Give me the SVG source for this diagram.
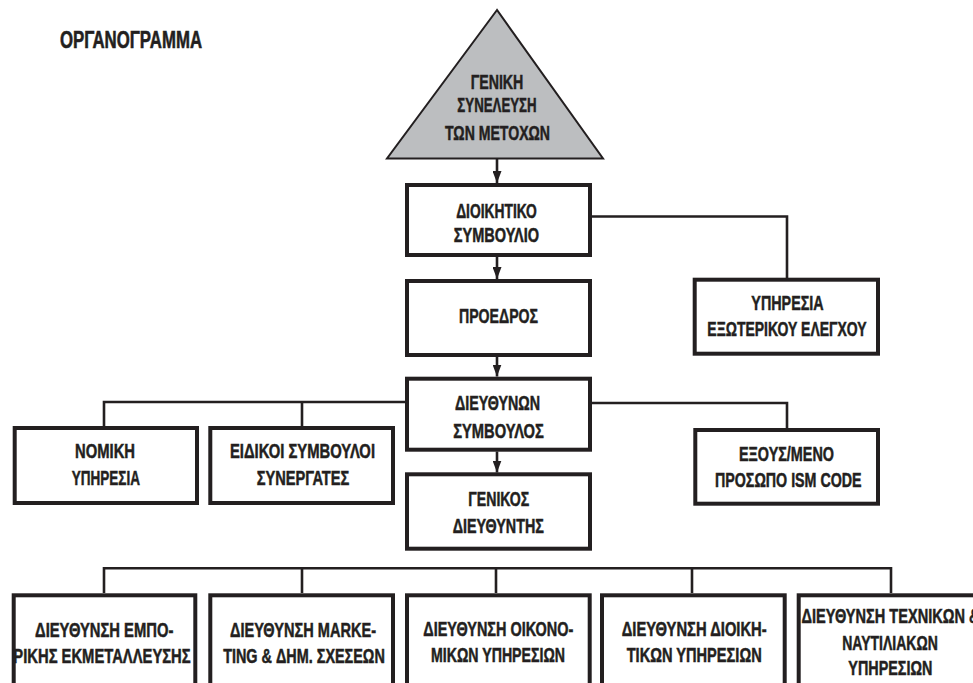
<svg xmlns="http://www.w3.org/2000/svg" width="973" height="683" viewBox="0 0 973 683">
<style>
.t{font-family:"Liberation Sans",Arial,sans-serif;font-weight:bold;font-size:20px;fill:#231f20;stroke:#231f20;stroke-width:0.5;text-anchor:middle}
.title{font-family:"Liberation Sans",Arial,sans-serif;font-weight:bold;font-size:23.5px;fill:#231f20;stroke:#231f20;stroke-width:0.6}
.box{fill:#fff;stroke:#231f20;stroke-width:4}
.tri{fill:#bcbec0;stroke:#231f20;stroke-width:2;stroke-linejoin:miter}
.ln{fill:none;stroke:#231f20;stroke-width:2.6}
</style>
<defs>
<marker id="ah" viewBox="0 0 12 9" refX="12" refY="4.5" markerWidth="12" markerHeight="9" markerUnits="userSpaceOnUse" orient="auto">
<path d="M0,0 L12,4.5 L0,9 z" fill="#231f20"/>
</marker>
</defs>
<rect width="973" height="683" fill="#fff"/>
<text class="title" x="60" y="47.5" textLength="142" lengthAdjust="spacingAndGlyphs">ΟΡΓΑΝΟΓΡΑΜΜΑ</text>

<g id="connectors">
<line class="ln" x1="497" y1="159" x2="497" y2="183" marker-end="url(#ah)"/>
<line class="ln" x1="497" y1="257" x2="497" y2="279" marker-end="url(#ah)"/>
<line class="ln" x1="497" y1="357" x2="497" y2="376.5" marker-end="url(#ah)"/>
<line class="ln" x1="497" y1="451.5" x2="497" y2="472.5" marker-end="url(#ah)"/>
<path class="ln" d="M592,216.5 H787 V278"/>
<path class="ln" d="M405,402 H104 V426 M302,402 V426"/>
<path class="ln" d="M592,403 H787 V428"/>
<path class="ln" d="M104,593 V568.3 H891 V593 M302,568.3 V593 M496,568.3 V593 M692,568.3 V593"/>
</g>

<g id="general-assembly">
<polygon class="tri" points="497,10 387,158.5 603,158.5"/>
<text class="t" x="497" y="89" textLength="52.7" lengthAdjust="spacingAndGlyphs">ΓΕΝΙΚΗ</text>
<text class="t" x="497" y="112" textLength="79.3" lengthAdjust="spacingAndGlyphs">ΣΥΝΕΛΕΥΣΗ</text>
<text class="t" x="497.5" y="139.5" textLength="105" lengthAdjust="spacingAndGlyphs">ΤΩΝ ΜΕΤΟΧΩΝ</text>
</g>

<g id="board">
<rect class="box" x="407" y="185" width="183" height="70"/>
<text class="t" x="496.5" y="218" textLength="80.7" lengthAdjust="spacingAndGlyphs">ΔΙΟΙΚΗΤΙΚΟ</text>
<text class="t" x="496.5" y="241.5" textLength="85.3" lengthAdjust="spacingAndGlyphs">ΣΥΜΒΟΥΛΙΟ</text>
</g>

<g id="chairman">
<rect class="box" x="407" y="281" width="183" height="74"/>
<text class="t" x="498.5" y="323" textLength="79" lengthAdjust="spacingAndGlyphs">ΠΡΟΕΔΡΟΣ</text>
</g>

<g id="audit">
<rect class="box" x="694.7" y="279.7" width="183.3" height="74"/>
<text class="t" x="787.5" y="309.5" textLength="72.3" lengthAdjust="spacingAndGlyphs">ΥΠΗΡΕΣΙΑ</text>
<text class="t" x="787" y="336.2" textLength="159.3" lengthAdjust="spacingAndGlyphs">ΕΞΩΤΕΡΙΚΟΥ ΕΛΕΓΧΟΥ</text>
</g>

<g id="ceo">
<rect class="box" x="407" y="378.7" width="183" height="71"/>
<text class="t" x="497.5" y="409.5" textLength="85" lengthAdjust="spacingAndGlyphs">ΔΙΕΥΘΥΝΩΝ</text>
<text class="t" x="498.5" y="437.5" textLength="90.7" lengthAdjust="spacingAndGlyphs">ΣΥΜΒΟΥΛΟΣ</text>
</g>

<g id="general-manager">
<rect class="box" x="407" y="474.3" width="183" height="74.4"/>
<text class="t" x="498.8" y="506" textLength="61" lengthAdjust="spacingAndGlyphs">ΓΕΝΙΚΟΣ</text>
<text class="t" x="498.3" y="532.8" textLength="91.3" lengthAdjust="spacingAndGlyphs">ΔΙΕΥΘΥΝΤΗΣ</text>
</g>

<g id="legal">
<rect class="box" x="14.7" y="428" width="182.3" height="75"/>
<text class="t" x="105" y="457.8" textLength="60" lengthAdjust="spacingAndGlyphs">ΝΟΜΙΚΗ</text>
<text class="t" x="105.8" y="485.3" textLength="68.3" lengthAdjust="spacingAndGlyphs">ΥΠΗΡΕΣΙΑ</text>
</g>

<g id="advisors">
<rect class="box" x="210.3" y="428" width="182.7" height="75"/>
<text class="t" x="302.5" y="458" textLength="145" lengthAdjust="spacingAndGlyphs">ΕΙΔΙΚΟΙ ΣΥΜΒΟΥΛΟΙ</text>
<text class="t" x="303" y="485" textLength="92.7" lengthAdjust="spacingAndGlyphs">ΣΥΝΕΡΓΑΤΕΣ</text>
</g>

<g id="ism">
<rect class="box" x="695.3" y="430" width="182.7" height="73.7"/>
<text class="t" x="786.5" y="460.7" textLength="95" lengthAdjust="spacingAndGlyphs">ΕΞΟΥΣ/ΜΕΝΟ</text>
<text class="t" x="788.3" y="487.3" textLength="146.7" lengthAdjust="spacingAndGlyphs">ΠΡΟΣΩΠΟ ISM CODE</text>
</g>

<g id="commercial">
<rect class="box" x="13.7" y="595.3" width="181.6" height="110"/>
<text class="t" x="104.2" y="636.5" textLength="138.3" lengthAdjust="spacingAndGlyphs">ΔΙΕΥΘΥΝΣΗ ΕΜΠΟ-</text>
<text class="t" x="102" y="662.8" textLength="177.3" lengthAdjust="spacingAndGlyphs">ΡΙΚΗΣ ΕΚΜΕΤΑΛΛΕΥΣΗΣ</text>
</g>

<g id="marketing">
<rect class="box" x="210.3" y="595.3" width="182.7" height="110"/>
<text class="t" x="303" y="636.5" textLength="146" lengthAdjust="spacingAndGlyphs">ΔΙΕΥΘΥΝΣΗ MARKE-</text>
<text class="t" x="304" y="662.8" textLength="161.7" lengthAdjust="spacingAndGlyphs">TING &amp; ΔΗΜ. ΣΧΕΣΕΩΝ</text>
</g>

<g id="finance">
<rect class="box" x="407" y="595.3" width="182.7" height="110"/>
<text class="t" x="498.3" y="636.3" textLength="150" lengthAdjust="spacingAndGlyphs">ΔΙΕΥΘΥΝΣΗ ΟΙΚΟΝΟ-</text>
<text class="t" x="498" y="661.8" textLength="134" lengthAdjust="spacingAndGlyphs">ΜΙΚΩΝ ΥΠΗΡΕΣΙΩΝ</text>
</g>

<g id="administration">
<rect class="box" x="602" y="595.3" width="182.7" height="110"/>
<text class="t" x="694.2" y="635.5" textLength="145" lengthAdjust="spacingAndGlyphs">ΔΙΕΥΘΥΝΣΗ ΔΙΟΙΚΗ-</text>
<text class="t" x="694.2" y="662" textLength="135" lengthAdjust="spacingAndGlyphs">ΤΙΚΩΝ ΥΠΗΡΕΣΙΩΝ</text>
</g>

<g id="technical">
<rect class="box" x="798.7" y="595.3" width="184" height="110"/>
<text class="t" x="890.5" y="623" textLength="178" lengthAdjust="spacingAndGlyphs">ΔΙΕΥΘΥΝΣΗ ΤΕΧΝΙΚΩΝ &amp;</text>
<text class="t" x="890" y="650" textLength="95.5" lengthAdjust="spacingAndGlyphs">ΝΑΥΤΙΛΙΑΚΩΝ</text>
<text class="t" x="890.3" y="675" textLength="84" lengthAdjust="spacingAndGlyphs">ΥΠΗΡΕΣΙΩΝ</text>
</g>
</svg>
